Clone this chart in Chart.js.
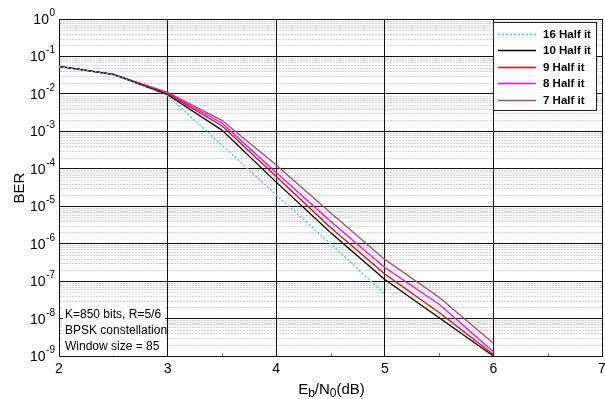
<!DOCTYPE html>
<html>
<head>
<meta charset="utf-8">
<script src="https://cdn.jsdelivr.net/npm/chart.js@4.4.1/dist/chart.umd.min.js"></script>
<style>
  html, body { margin: 0; padding: 0; background: #fff; }
  #wrap { width: 605px; height: 399px; }
</style>
</head>
<body>
<div id="wrap"><canvas id="c" width="605" height="399"></canvas></div>
<script>
// Eb/N0 operating points (dB)
const ebn0 = [2, 2.5, 3, 3.5, 4, 4.5, 5, 5.5, 6];

// Bit error rate per number of decoder half-iterations
const ber16 = [5.4e-2, 3.3e-2, 9.0e-3, 4.3e-4, 2.0e-5, 1.0e-6, 4.5e-8];
const ber10 = [5.4e-2, 3.3e-2, 9.5e-3, 1.08e-3, 4.4e-5, 2.0e-6, 1.1e-7, 1.05e-8, 1.0e-9];
const ber9  = [5.4e-2, 3.3e-2, 1.0e-2, 1.41e-3, 6.2e-5, 2.7e-6, 1.55e-7, 1.45e-8, 1.1e-9];
const ber8  = [5.4e-2, 3.3e-2, 1.05e-2, 1.67e-3, 8.0e-5, 3.95e-6, 2.3e-7, 2.4e-8, 1.3e-9];
const ber7  = [5.4e-2, 3.3e-2, 1.1e-2, 1.97e-3, 1.26e-4, 6.7e-6, 3.8e-7, 3.7e-8, 2.2e-9];

const seriesLabels = ['16 Half it', '10 Half it', '9 Half it', '8 Half it', '7 Half it'];
const xTicks = [2, 3, 4, 5, 6, 7];
const xMinorTicks = [2.5, 3.5, 4.5, 5.5, 6.5];
const yDecades = [0, -1, -2, -3, -4, -5, -6, -7, -8, -9];
const noteLines = ['K=850 bits, R=5/6', 'BPSK constellation', 'Window size = 85'];

const FONT = "'Liberation Sans', Arial, Helvetica, sans-serif";

function pts(ys) { return ys.map((y, i) => ({ x: ebn0[i], y: y })); }

function series(label, ys, color, dash) {
  return {
    label: label,
    data: pts(ys),
    borderColor: color,
    backgroundColor: color,
    borderWidth: 1.3,
    borderDash: dash || [],
    pointRadius: 0,
    tension: 0,
    fill: false
  };
}

// Background, dotted minor grid (2..9 x 10^n) drawn beneath the major grid
const minorGrid = {
  id: 'minorGrid',
  beforeDraw(chart) {
    const { ctx, chartArea: a, scales } = chart;
    ctx.save();
    ctx.fillStyle = '#fff';
    ctx.fillRect(0, 0, chart.width, chart.height);
    ctx.strokeStyle = '#d2d2d2';
    ctx.lineWidth = 1;
    ctx.setLineDash([2, 1]);
    for (let e = -9; e < 0; e++) {
      for (let k = 2; k <= 9; k++) {
        const y = Math.round(scales.y.getPixelForValue(k * Math.pow(10, e))) + 0.5;
        ctx.beginPath();
        ctx.moveTo(a.left + 1, y);
        ctx.lineTo(a.right, y);
        ctx.stroke();
      }
    }
    ctx.restore();
  }
};

// Axis decorations, note box and legend
const decorations = {
  id: 'decorations',
  afterDraw(chart) {
    const { ctx, chartArea: a, scales } = chart;
    ctx.save();

    // minor x ticks on the bottom edge
    ctx.strokeStyle = '#777';
    ctx.lineWidth = 1;
    xMinorTicks.forEach(v => {
      const x = Math.round(scales.x.getPixelForValue(v)) + 0.5;
      ctx.beginPath();
      ctx.moveTo(x, a.bottom);
      ctx.lineTo(x, a.bottom - 3);
      ctx.stroke();
    });

    // y tick labels 10^n
    ctx.fillStyle = '#000';
    ctx.textBaseline = 'alphabetic';
    yDecades.forEach(e => {
      const y = scales.y.getPixelForValue(Math.pow(10, e));
      const expStr = String(e);
      ctx.font = '10px ' + FONT;
      const ew = ctx.measureText(expStr).width;
      ctx.textAlign = 'left';
      ctx.fillText(expStr, 55 - ew, y - 3);
      ctx.font = '14px ' + FONT;
      ctx.textAlign = 'right';
      ctx.fillText('10', 55 - ew - 0.5, y + 5);
    });

    // y axis title
    ctx.save();
    ctx.translate(20, 188);
    ctx.rotate(-Math.PI / 2);
    ctx.font = '15px ' + FONT;
    ctx.textAlign = 'center';
    ctx.textBaseline = 'middle';
    ctx.fillText('BER', 0, 0);
    ctx.restore();

    // x axis title with subscripts: E_b/N_0(dB)
    const parts = [
      { t: 'E', sub: false }, { t: 'b', sub: true }, { t: '/N', sub: false },
      { t: '0', sub: true }, { t: '(dB)', sub: false }
    ];
    let total = 0;
    parts.forEach(p => {
      ctx.font = (p.sub ? '12px ' : '15px ') + FONT;
      p.w = ctx.measureText(p.t).width;
      total += p.w;
    });
    let tx = (a.left + a.right) / 2 - total / 2 + 1;
    const base = 394;
    ctx.textAlign = 'left';
    ctx.textBaseline = 'alphabetic';
    parts.forEach(p => {
      ctx.font = (p.sub ? '12px ' : '15px ') + FONT;
      ctx.fillText(p.t, tx, p.sub ? base + 2.5 : base);
      tx += p.w;
    });

    // parameter note in the lower-left corner
    ctx.fillStyle = '#fff';
    ctx.fillRect(63, 303, 102, a.bottom - 303 - 0.5);
    ctx.fillStyle = '#000';
    ctx.font = '12px ' + FONT;
    ctx.textBaseline = 'middle';
    noteLines.forEach((s, i) => ctx.fillText(s, 65, 315 + i * 15.7));

    // legend
    const lx = 493.5, ly = 22.5, lw = 103, lh = 88;
    ctx.fillStyle = '#fff';
    ctx.fillRect(lx, ly, lw, lh);
    ctx.strokeStyle = '#222';
    ctx.lineWidth = 1;
    ctx.setLineDash([]);
    ctx.strokeRect(lx, ly, lw, lh);
    ctx.font = 'bold 11.5px ' + FONT;
    ctx.textBaseline = 'middle';
    chart.data.datasets.forEach((ds, i) => {
      const y = Math.round(33.5 + i * 16.6) + 0.5;
      ctx.strokeStyle = ds.borderColor;
      ctx.lineWidth = 1.5;
      ctx.setLineDash(ds.borderDash || []);
      ctx.beginPath();
      ctx.moveTo(498, y);
      ctx.lineTo(536, y);
      ctx.stroke();
      ctx.setLineDash([]);
      ctx.fillStyle = '#000';
      ctx.fillText(ds.label, 543, y);
    });

    ctx.restore();
  }
};

new Chart(document.getElementById('c'), {
  type: 'line',
  data: {
    datasets: [
      series(seriesLabels[0], ber16, '#3ec6f0', [2, 2]),
      series(seriesLabels[1], ber10, '#000000'),
      series(seriesLabels[2], ber9, '#ff0000'),
      series(seriesLabels[3], ber8, '#ff00ff'),
      series(seriesLabels[4], ber7, '#a0506e')
    ]
  },
  options: {
    responsive: false,
    animation: false,
    devicePixelRatio: 1,
    layout: { padding: { top: 19, right: 3, left: 0, bottom: 0 } },
    plugins: { legend: { display: false }, tooltip: { enabled: false } },
    scales: {
      x: {
        type: 'linear',
        min: 2,
        max: 7,
        afterBuildTicks: s => { s.ticks = xTicks.map(v => ({ value: v })); },
        afterFit: s => { s.height = 43; s.paddingLeft = 0; s.paddingRight = 0; },
        grid: { color: '#111', lineWidth: 1, drawTicks: false },
        border: { color: '#111' },
        ticks: {
          padding: 5,
          color: '#000',
          font: { family: FONT, size: 14 },
          maxRotation: 0,
          autoSkip: false
        }
      },
      y: {
        type: 'logarithmic',
        min: 1e-9,
        max: 1,
        afterBuildTicks: s => { s.ticks = yDecades.map(e => ({ value: Math.pow(10, e) })); },
        afterFit: s => { s.width = 59; s.paddingTop = 0; s.paddingBottom = 0; },
        grid: { color: '#111', lineWidth: 1, drawTicks: false },
        border: { color: '#111' },
        ticks: { display: false }
      }
    }
  },
  plugins: [minorGrid, decorations]
});
</script>
</body>
</html>
